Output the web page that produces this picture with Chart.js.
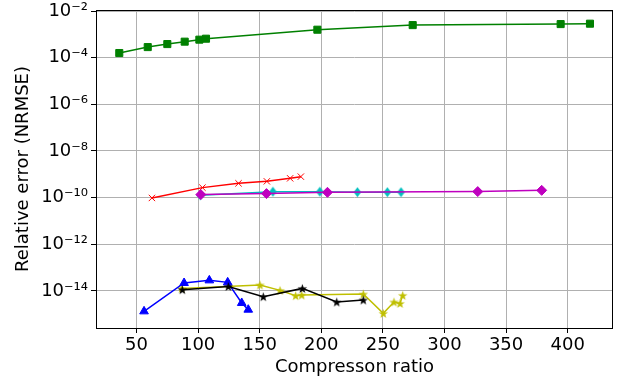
<!DOCTYPE html>
<html lang="en">
<head>
  <meta charset="UTF-8">
  <title>Relative error vs compression ratio</title>
  <script src="https://cdn.jsdelivr.net/npm/chart.js"></script>
  <style>
    body { margin: 0; background: white; }
  </style>
</head>
<body>
  <canvas id="myChart" width="621" height="383"></canvas>

<script>
// tick positions
const xTicks = [50, 100, 150, 200, 250, 300, 350, 400];
const yTicks = [1e-14, 1e-12, 1e-10, 1e-8, 1e-6, 1e-4, 1e-2];

// series
const greenX = [36.0, 59.1, 75.0, 89.1, 101.0, 106.4, 196.8, 274.2, 394.3, 418.1];
const greenY = [1.58e-4, 2.84e-4, 3.83e-4, 4.85e-4, 5.91e-4, 6.5e-4, 1.58e-3, 2.49e-3, 2.75e-3, 2.86e-3];

const redX = [62.5, 103.5, 132.8, 155.8, 174.7, 183.4];
const redY = [9.7e-11, 2.69e-10, 4.11e-10, 5.0e-10, 6.74e-10, 7.96e-10];

const cyanX = [101.7, 160.7, 198.8, 229.3, 253.6, 264.7];
const cyanY = [1.26e-10, 1.8e-10, 1.8e-10, 1.72e-10, 1.72e-10, 1.72e-10];

const magentaX = [102.2, 155.5, 205.0, 327.0, 378.9];
const magentaY = [1.35e-10, 1.49e-10, 1.69e-10, 1.82e-10, 2.06e-10];

const yellowX = [86.7, 150.2, 166.5, 179.2, 184.1, 234.1, 250.3, 259.0, 263.9, 266.1];
const yellowY = [1.29e-14, 1.81e-14, 1.06e-14, 6.3e-15, 6.7e-15, 7.4e-15, 1.1e-15, 3.38e-15, 2.94e-15, 6.5e-15];

const blueX = [56.1, 88.6, 109.1, 124.0, 135.4, 140.7];
const blueY = [1.34e-15, 2.2e-14, 2.85e-14, 2.34e-14, 3.06e-15, 1.58e-15];

const blackX = [87.2, 124.5, 152.9, 184.6, 212.5, 234.1];
const blackY = [1.14e-14, 1.57e-14, 5.7e-15, 1.29e-14, 3.38e-15, 4.11e-15];

const fonte = "'DejaVu Sans', sans-serif";

function pontos(xs, ys) {
  return xs.map(function (x, i) { return { x: x, y: ys[i] }; });
}

// filled star like matplotlib '*'
function estrela(cor) {
  const c = document.createElement('canvas');
  c.width = 11; c.height = 11;
  const g = c.getContext('2d');
  g.fillStyle = cor;
  g.beginPath();
  for (let i = 0; i < 10; i++) {
    const r = i % 2 ? 2 : 5;
    const a = -Math.PI / 2 + i * Math.PI / 5;
    const px = 5.5 + r * Math.cos(a), py = 6 + r * Math.sin(a);
    if (i == 0) g.moveTo(px, py); else g.lineTo(px, py);
  }
  g.closePath();
  g.fill();
  return c;
}

// thin diamond like matplotlib 'd'
function losango(cor) {
  const c = document.createElement('canvas');
  c.width = 9; c.height = 11;
  const g = c.getContext('2d');
  g.fillStyle = cor;
  g.beginPath();
  g.moveTo(4.5, 0.5);
  g.lineTo(8.3, 5.5);
  g.lineTo(4.5, 10.5);
  g.lineTo(0.7, 5.5);
  g.closePath();
  g.fill();
  return c;
}

function serie(xs, ys, cor, estilo, raio, ordem) {
  return {
    data: pontos(xs, ys),
    borderColor: cor,
    backgroundColor: cor,
    pointBackgroundColor: cor,
    pointBorderColor: cor,
    pointStyle: estilo,
    pointRadius: raio,
    pointBorderWidth: 1,
    borderWidth: 1.5,
    order: ordem
  };
}

const sup = { '-': '⁻', '0': '⁰', '1': '¹', '2': '²', '3': '³', '4': '⁴', '5': '⁵', '6': '⁶', '7': '⁷', '8': '⁸', '9': '⁹' };

const moldura = {
  id: 'moldura',
  afterDatasetsDraw(chart) {
    const a = chart.chartArea, ctx = chart.ctx;
    ctx.save();
    ctx.strokeStyle = '#000';
    ctx.lineWidth = 1;
    ctx.strokeRect(Math.round(a.left) + 0.5, Math.round(a.top) + 0.5, Math.round(a.right - a.left) - 1, Math.round(a.bottom - a.top));
    ctx.restore();
  }
};

const ctx = document.getElementById('myChart');
new Chart(ctx, {
  type: 'line',
  data: {
    datasets: [
      serie(greenX, greenY, '#008000', 'rect', 5, 7),
      serie(redX, redY, '#ff0000', 'crossRot', 4.5, 6),
      serie(cyanX, cyanY, '#00bfbf', losango('#00bfbf'), 5, 5),
      serie(magentaX, magentaY, '#bf00bf', 'rectRot', 5, 4),
      serie(yellowX, yellowY, '#bfbf00', estrela('#bfbf00'), 5, 3),
      serie(blueX, blueY, '#0000ff', 'triangle', 5, 2),
      serie(blackX, blackY, '#000000', estrela('#000000'), 5, 1)
    ]
  },
  options: {
    responsive: false,
    animation: false,
    layout: { padding: { top: 10, right: 8, left: 0, bottom: 0 } },
    plugins: {
      legend: { display: false },
      tooltip: { enabled: false }
    },
    scales: {
      x: {
        type: 'linear',
        min: 17.1,
        max: 436.8,
        afterBuildTicks: function (s) { s.ticks = xTicks.map(function (v) { return { value: v }; }); },
        afterFit: function (s) { s.height = 55; s.paddingLeft = 0; s.paddingRight = 0; },
        grid: { color: '#b0b0b0', lineWidth: 1, tickColor: '#000', tickLength: 5 },
        border: { display: false },
        ticks: { color: '#000', padding: 2, maxRotation: 0, font: { family: fonte, size: 18 } },
        title: { display: true, text: 'Compresson ratio', color: '#000', padding: { top: 0, bottom: 5 }, font: { family: fonte, size: 18 } }
      },
      y: {
        type: 'logarithmic',
        min: 2.59e-16,
        max: 1.104e-2,
        afterBuildTicks: function (s) { s.ticks = yTicks.map(function (v) { return { value: v }; }); },
        afterFit: function (s) { s.width = 96; s.paddingTop = 0; s.paddingBottom = 0; },
        grid: { color: '#b0b0b0', lineWidth: 1, tickColor: '#000', tickLength: 5 },
        border: { display: false },
        ticks: {
          color: '#000',
          padding: 3,
          font: { family: fonte, size: 18 },
          callback: function (v) {
            const e = String(Math.round(Math.log10(v)));
            return '10' + e.split('').map(function (c) { return sup[c]; }).join('');
          }
        },
        title: { display: true, text: 'Relative error (NRMSE)', color: '#000', padding: { top: 13, bottom: 0 }, font: { family: fonte, size: 18 } }
      }
    }
  },
  plugins: [moldura]
});
</script>
</body>
</html>
